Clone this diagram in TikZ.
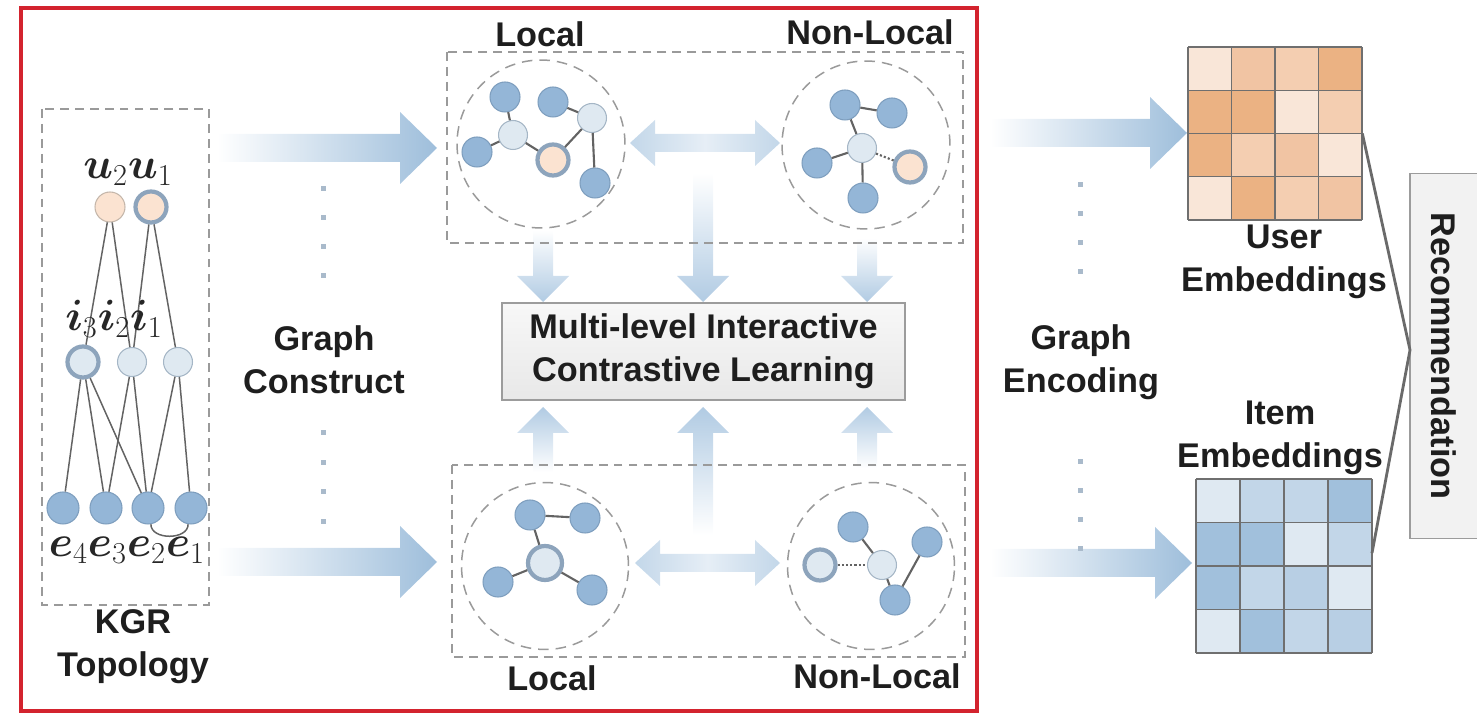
\documentclass[tikz,border=0pt]{standalone}
\usepackage{fontspec}
\setsansfont{Liberation Sans}
\usepackage{bm}
\definecolor{redframe}{HTML}{D3232E}
\definecolor{txt}{HTML}{1E1E1E}
\definecolor{dashgray}{HTML}{9A9A9A}
\definecolor{edgegray}{HTML}{636363}
\definecolor{medfill}{HTML}{94B6D7}
\definecolor{meddraw}{HTML}{7E9EBE}
\definecolor{ltfill}{HTML}{DFE9F1}
\definecolor{ltdraw}{HTML}{A5B6C6}
\definecolor{pchfill}{HTML}{FBE3D1}
\definecolor{pchdraw}{HTML}{C4B6AA}
\definecolor{ringcol}{HTML}{8DA4BC}
\definecolor{arrowbig}{HTML}{9EBEDB}
\definecolor{arrowv}{HTML}{B1CBE3}
\definecolor{arrowdbl}{HTML}{C3D7E9}
\definecolor{arrowdblmid}{HTML}{E6EEF6}
\definecolor{dotcol}{HTML}{A9BACB}
\definecolor{boxfill}{HTML}{F2F2F2}
\definecolor{boxdraw}{HTML}{9C9C9C}
\definecolor{gridcol}{HTML}{6F6F6F}
\definecolor{recline}{HTML}{6A6A6A}
\definecolor{uL}{HTML}{F9E6D8}
\definecolor{uM}{HTML}{F4CEB1}
\definecolor{uN}{HTML}{F1C4A3}
\definecolor{uD}{HTML}{EBB283}
\definecolor{iL}{HTML}{DFE9F2}
\definecolor{iM}{HTML}{C2D6E8}
\definecolor{iN}{HTML}{B8CFE4}
\definecolor{iD}{HTML}{A1C0DC}

\newcommand{\ArrowRight}[4]{%
  \shade[left color=white, right color=#4] ({#1},{#3-14}) -- ({#2-37},{#3-14}) -- ({#2-37},{#3-36}) -- ({#2},{#3}) -- ({#2-37},{#3+36}) -- ({#2-37},{#3+14}) -- ({#1},{#3+14}) -- cycle;}
\newcommand{\ArrowDown}[4]{%
  \shade[top color=white, bottom color=#4] ({#1-10},{#2}) -- ({#1-10},{#3-26}) -- ({#1-26},{#3-26}) -- ({#1},{#3}) -- ({#1+26},{#3-26}) -- ({#1+10},{#3-26}) -- ({#1+10},{#2}) -- cycle;}
\newcommand{\ArrowUp}[4]{%
  \shade[top color=#4, bottom color=white] ({#1-10},{#2}) -- ({#1-10},{#3+26}) -- ({#1-26},{#3+26}) -- ({#1},{#3}) -- ({#1+26},{#3+26}) -- ({#1+10},{#3+26}) -- ({#1+10},{#2}) -- cycle;}
\newcommand{\ArrowBoth}[3]{%
  \shade[left color=arrowdbl, right color=arrowdbl, middle color=arrowdblmid] ({#1},{#3}) -- ({#1+25},{#3-23}) -- ({#1+25},{#3-9}) -- ({#2-25},{#3-9}) -- ({#2-25},{#3-23}) -- ({#2},{#3}) -- ({#2-25},{#3+23}) -- ({#2-25},{#3+9}) -- ({#1+25},{#3+9}) -- ({#1+25},{#3+23}) -- cycle;}

\begin{document}
\begin{tikzpicture}[x=0.02cm, y=-0.02cm,
  lbl/.style={font=\sffamily\bfseries\fontsize{19.5}{24.5}\selectfont, text=txt, align=center, inner sep=0pt},
  mlbl/.style={font=\fontsize{23}{27}\selectfont, text=black!85, inner sep=0pt},
  med/.style={circle, fill=medfill, draw=meddraw, line width=0.6pt, minimum size=0.6cm, inner sep=0pt},
  lt/.style={circle, fill=ltfill, draw=ltdraw, line width=0.6pt, minimum size=0.58cm, inner sep=0pt},
  pch/.style={circle, fill=pchfill, draw=pchdraw, line width=0.6pt, minimum size=0.6cm, inner sep=0pt},
  ringlt/.style={circle, fill=ltfill, draw=ringcol, line width=2.4pt, minimum size=0.62cm, inner sep=0pt},
  ringpch/.style={circle, fill=pchfill, draw=ringcol, line width=2.4pt, minimum size=0.62cm, inner sep=0pt},
  gedge/.style={draw=edgegray, line width=1.2pt},
  kedge/.style={draw=edgegray, line width=0.85pt},
  dotedge/.style={draw=edgegray, line width=1.2pt, dash pattern=on 1.2pt off 1.2pt},
  dashbox/.style={draw=dashgray, line width=0.85pt, dash pattern=on 5pt off 3.5pt},
  dashcirc/.style={draw=dashgray, line width=0.85pt, dash pattern=on 6pt off 4pt},
  recedge/.style={draw=recline, line width=1.6pt},
]
\useasboundingbox (0,0) rectangle (1477,715);

% ---------- big arrows ----------
\ArrowRight{217}{437}{148}{arrowbig}
\ArrowRight{217}{437}{562}{arrowbig}
\ArrowRight{990}{1187}{133}{arrowbig}
\ArrowRight{990}{1192}{563}{arrowbig}
\ArrowBoth{630}{780}{143}
\ArrowBoth{635}{780}{563}
\ArrowDown{543}{230}{302}{arrowv}
\ArrowDown{703}{173}{302}{arrowv}
\ArrowDown{867}{238}{302}{arrowv}
\ArrowUp{543}{472}{407}{arrowv}
\ArrowUp{703}{535}{407}{arrowv}
\ArrowUp{867}{468}{407}{arrowv}

% ---------- dots ----------
\foreach \yy in {189,218,247,276,433,463,492,522}
  \fill[dotcol] ({323-2.5},{\yy-2.5}) rectangle ++(5,5);
\foreach \yy in {185,214,243,272,462,491,520,549}
  \fill[dotcol] ({1080-2.5},{\yy-2.5}) rectangle ++(5,5);

% ---------- red frame ----------
\draw[redframe, line width=2.3pt] (21,8) rectangle (977,711);

% ---------- dashed boxes and circles ----------
\draw[dashbox] (42,109) rectangle (209,605);
\draw[dashbox] (447,52) rectangle (963,243);
\draw[dashbox] (452,465) rectangle (965,657);
\draw[dashcirc] (541,144) circle[radius=1.68cm];
\draw[dashcirc] (866,145) circle[radius=1.68cm];
\draw[dashcirc] (545,566) circle[radius=1.67cm];
\draw[dashcirc] (871,566) circle[radius=1.67cm];

% ---------- KGR topology ----------
\node[pch] (u2) at (110,207) {};
\node[ringpch] (u1) at (151,207) {};
\node[ringlt] (i3) at (83,362) {};
\node[lt] (i2) at (132,362) {};
\node[lt] (i1) at (178,362) {};
\node[med, minimum size=0.64cm] (e4) at (63,508) {};
\node[med, minimum size=0.64cm] (e3) at (106,508) {};
\node[med, minimum size=0.64cm] (e2) at (148,508) {};
\node[med, minimum size=0.64cm] (e1) at (191,508) {};
\draw[kedge] (u2) -- (i3);
\draw[kedge] (u2) -- (i2);
\draw[kedge] (u1) -- (i2);
\draw[kedge] (u1) -- (i1);
\draw[kedge] (i3) -- (e4);
\draw[kedge] (i3) -- (e3);
\draw[kedge] (i3) -- (e2);
\draw[kedge] (i2) -- (e3);
\draw[kedge] (i2) -- (e2);
\draw[kedge] (i1) -- (e2);
\draw[kedge] (i1) -- (e1);
\draw[kedge] (e2.-80) .. controls +(0,16) and +(0,16) .. (e1.-100);
\node[mlbl, anchor=base] (lu) at (128,179) {$\bm{u}_2\bm{u}_1$};
\node[mlbl, anchor=base] (li) at (114,331) {$\bm{i}_3\bm{i}_2\bm{i}_1$};
\node[mlbl, anchor=base] (le) at (127,557) {$\bm{e}_4\bm{e}_3\bm{e}_2\bm{e}_1$};
\node[lbl] (kgr) at (133,647) {KGR\\Topology};

% ---------- top local graph ----------
\node[med] (tlA) at (505,97) {};
\node[lt] (tlB) at (513,135) {};
\node[med] (tlC) at (477,152) {};
\node[med] (tlD) at (553,102) {};
\node[lt] (tlE) at (592,118) {};
\node[ringpch] (tlF) at (553,160) {};
\node[med] (tlG) at (595,183) {};
\draw[gedge] (tlA) -- (tlB);
\draw[gedge] (tlB) -- (tlC);
\draw[gedge] (tlB) -- (tlF);
\draw[gedge] (tlD) -- (tlE);
\draw[gedge] (tlE) -- (tlF);
\draw[gedge] (tlE) -- (tlG);

% ---------- top non-local graph ----------
\node[med] (tnA) at (845,105) {};
\node[med] (tnB) at (892,113) {};
\node[lt] (tnC) at (862,148) {};
\node[med] (tnD) at (817,163) {};
\node[ringpch] (tnE) at (910,167) {};
\node[med] (tnF) at (863,198) {};
\draw[gedge] (tnA) -- (tnB);
\draw[gedge] (tnA) -- (tnC);
\draw[gedge] (tnC) -- (tnD);
\draw[gedge] (tnC) -- (tnF);
\draw[dotedge] (tnC) -- (tnE);

% ---------- bottom local graph ----------
\node[med] (blA) at (530,515) {};
\node[med] (blB) at (585,518) {};
\node[ringlt, minimum size=0.68cm] (blC) at (545,563) {};
\node[med] (blD) at (498,582) {};
\node[med] (blE) at (592,590) {};
\draw[gedge] (blA) -- (blB);
\draw[gedge] (blA) -- (blC);
\draw[gedge] (blC) -- (blD);
\draw[gedge] (blC) -- (blE);

% ---------- bottom non-local graph ----------
\node[med] (bnA) at (853,527) {};
\node[med] (bnB) at (927,542) {};
\node[ringlt] (bnC) at (820,565) {};
\node[lt] (bnD) at (882,565) {};
\node[med] (bnE) at (895,600) {};
\draw[gedge] (bnA) -- (bnD);
\draw[gedge] (bnD) -- (bnE);
\draw[gedge] (bnE) -- (bnB);
\draw[dotedge] (bnC) -- (bnD);

% ---------- labels ----------
\node[lbl, anchor=base] (tLocal) at (540,47) {Local};
\node[lbl, anchor=base] (tNon) at (870,45) {Non-Local};
\node[lbl, anchor=base] (bLocal) at (552,690) {Local};
\node[lbl, anchor=base] (bNon) at (877,688) {Non-Local};
\node[lbl] (gc) at (324,360) {Graph\\Construct};
\node[lbl] (ge) at (1081,362) {Graph\\Encoding};

% ---------- central box ----------
\node[lbl, draw=boxdraw, line width=0.8pt, top color=white!97!black, bottom color=white!91!black,
      minimum width=8.06cm, minimum height=1.94cm] (mlic) at (703.5,351.5)
      {Multi-level Interactive\\Contrastive Learning};

% ---------- user embeddings ----------
\node[inner sep=0pt, minimum width=3.48cm, minimum height=3.46cm] (umat) at (1275,133.5) {};
\foreach \r/\c/\cl in {0/0/uL,0/1/uN,0/2/uM,0/3/uD,1/0/uD,1/1/uD,1/2/uL,1/3/uM,2/0/uD,2/1/uM,2/2/uN,2/3/uL,3/0/uL,3/1/uD,3/2/uM,3/3/uN}
  \fill[\cl] ({1188+43.5*\c},{47+43.25*\r}) rectangle ++(43.5,43.25);
\foreach \k in {0,...,4} {
  \draw[gridcol, line width=0.8pt] ({1188+43.5*\k},47) -- ({1188+43.5*\k},220);
  \draw[gridcol, line width=0.8pt] (1188,{47+43.25*\k}) -- (1362,{47+43.25*\k});
}
\node[lbl] (ulbl) at (1284,262) {User\\Embeddings};

% ---------- item embeddings ----------
\node[inner sep=0pt, minimum width=3.52cm, minimum height=3.48cm] (imat) at (1284,566) {};
\foreach \r/\c/\cl in {0/0/iL,0/1/iM,0/2/iM,0/3/iD,1/0/iD,1/1/iD,1/2/iL,1/3/iM,2/0/iD,2/1/iM,2/2/iN,2/3/iL,3/0/iL,3/1/iD,3/2/iM,3/3/iN}
  \fill[\cl] ({1196+44*\c},{479+43.5*\r}) rectangle ++(44,43.5);
\foreach \k in {0,...,4} {
  \draw[gridcol, line width=0.8pt] ({1196+44*\k},479) -- ({1196+44*\k},653);
  \draw[gridcol, line width=0.8pt] (1196,{479+43.5*\k}) -- (1372,{479+43.5*\k});
}
\node[lbl] (ilbl) at (1280,438) {Item\\Embeddings};

% ---------- recommendation ----------
\node[lbl, draw=boxdraw, fill=boxfill, line width=0.8pt, rotate=-90,
      minimum width=7.3cm, minimum height=1.36cm] (rec) at (1444,356) {Recommendation};
\coordinate (recin) at (1410,350);
\coordinate (ie) at (1372,553);
\draw[recedge] (umat.east) -- (recin) -- (ie);
\end{tikzpicture}
\end{document}
